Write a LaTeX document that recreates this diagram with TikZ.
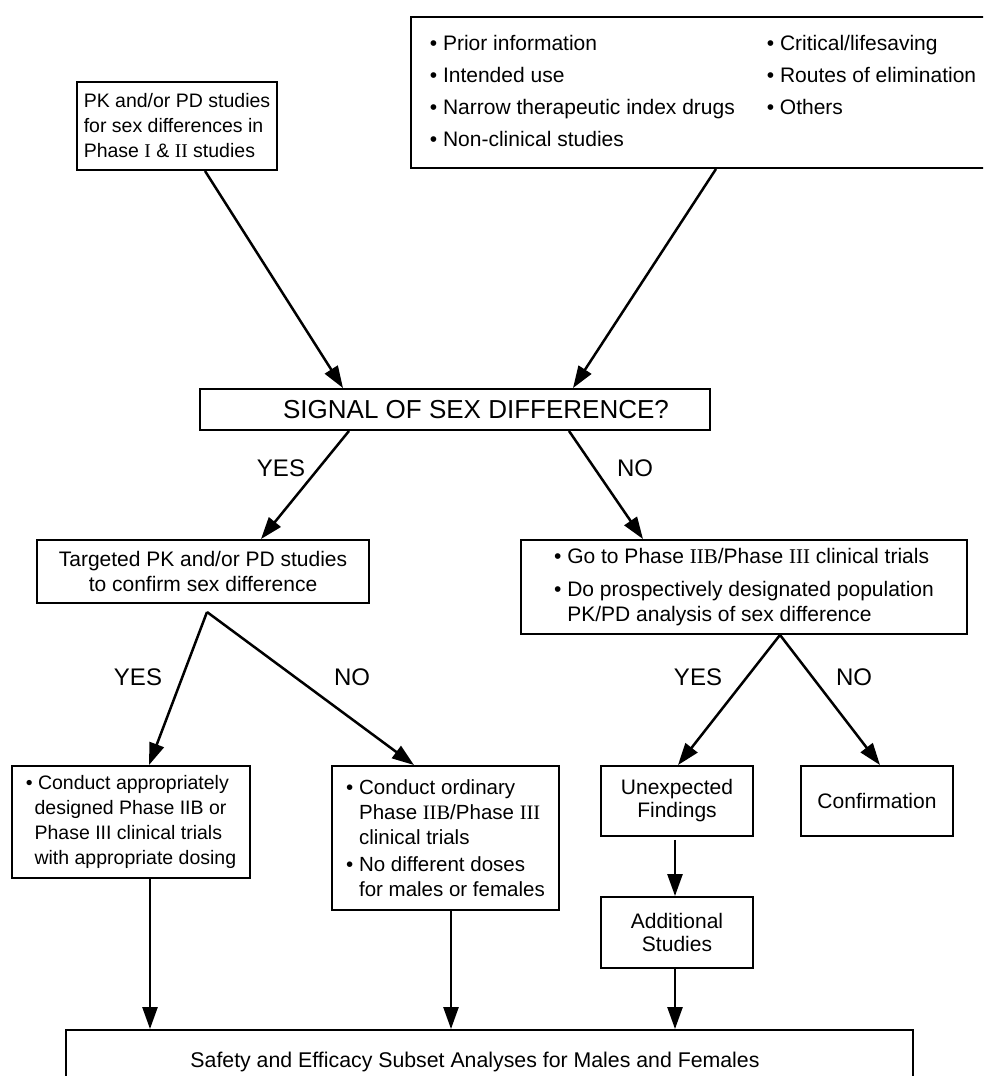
\documentclass[tikz,border=0pt]{standalone}
\usepackage{fontspec}
\setmainfont{Liberation Sans}
\newfontfamily\serifrn{Liberation Serif}
\newcommand{\RN}[1]{{\serifrn #1}}
\newcommand{\bul}{\textbullet\ }
\newcommand{\hang}{\hphantom{\textbullet\ }}
\usetikzlibrary{arrows.meta}
\tikzset{
  x=1pt, y=-1pt,
  box/.style={draw, line width=1.9pt, inner sep=0pt, align=left,
    font=\fontsize{21}{25}\selectfont},
  arr/.style={line width=2.5pt, -{Triangle[length=22pt,width=15pt]}},
  lab/.style={font=\fontsize{24}{28}\selectfont},
}
\begin{document}
\begin{tikzpicture}
\useasboundingbox (0,0) rectangle (983,1076);
\clip (0,0) rectangle (983,1076);

% boxes
\node[box, minimum width=584, minimum height=151, font=\fontsize{21}{32}\selectfont] (top) at (703,92.5)
  {\begin{tabular}{@{}p{337pt}@{}l@{}}
   \bul Prior information & \bul Critical/lifesaving\\
   \bul Intended use & \bul Routes of elimination\\
   \bul Narrow therapeutic index drugs & \bul Others\\
   \bul Non-clinical studies &
   \end{tabular}};
\node[box, minimum width=200, minimum height=88, font=\fontsize{19.5}{25}\selectfont] (b1) at (177,126)
  {PK and/or PD studies\\for sex differences in\\Phase \RN{I} \& \RN{II} studies};
\node[box, minimum width=510, minimum height=41, font=\fontsize{26}{30}\selectfont] (sig) at (455,409.5)
  {\hspace*{42pt}SIGNAL OF SEX DIFFERENCE?};
\node[box, minimum width=332, minimum height=63, align=center] (targ) at (203,571.5)
  {Targeted PK and/or PD studies\\to confirm sex difference};
\node[box, minimum width=446, minimum height=94] (goto) at (744,587)
  {\bul Go to Phase \RN{IIB}/Phase \RN{III} clinical trials\\[8pt]
   \bul Do prospectively designated population\\
   \hang PK/PD analysis of sex difference};
\node[box, minimum width=238, minimum height=112, font=\fontsize{19.5}{25}\selectfont] (b3) at (131,822)
  {\bul Conduct appropriately\\
   \hspace*{0.45em}designed Phase IIB or\\
   \hspace*{0.45em}Phase III clinical trials\\
   \hspace*{0.45em}with appropriate dosing};
\node[box, minimum width=227, minimum height=144, font=\fontsize{20.5}{25}\selectfont] (b4) at (445.5,838)
  {\bul Conduct ordinary\\
   \hang Phase \RN{IIB}/Phase \RN{III}\\
   \hang clinical trials\\[2pt]
   \bul No different doses\\
   \hang for males or females};
\node[box, minimum width=152, minimum height=70, align=center, font=\fontsize{21}{23}\selectfont] (unexp) at (677,801)
  {Unexpected\\Findings};
\node[box, minimum width=152, minimum height=70, align=center] (conf) at (877,801)
  {Confirmation};
\node[box, minimum width=152, minimum height=71, align=center, font=\fontsize{21}{23}\selectfont] (addl) at (677,932.5)
  {Additional\\Studies};
\node[box, minimum width=847, minimum height=64, font=\fontsize{21.3}{25}\selectfont] (bot) at (489.5,1062)
  {Safety and Efficacy Subset Analyses for Males and Females\hspace*{29pt}};

% split points
\coordinate (tsplit) at (207,612);
\coordinate (gsplit) at (goto.south -| 780,0);

% connectors
\draw[arr] (b1.south -| 205,0) -- (sig.north -| 343,0);
\draw[arr] (top.south -| 716,0) -- (sig.north -| 573,0);
\draw[arr] (sig.south -| 349,0) -- (targ.north -| 261,0);
\draw[arr] (sig.south -| 569,0) -- (goto.north -| 643,0);
\draw[arr] (tsplit) -- (b3.north -| 149,0);
\draw[arr] (tsplit) -- (b4.north -| 414,0);
\draw[arr] (gsplit) -- (unexp.north -| 678,0);
\draw[arr] (gsplit) -- (conf.north -| 880,0);
\draw[arr] ([yshift=-3pt]unexp.south -| 675,0) -- (addl.north -| 675,0);
\draw[arr] (b3.south -| 150,0) -- (bot.north -| 150,0);
\draw[arr] (b4.south -| 451,0) -- (bot.north -| 451,0);
\draw[arr] (addl.south -| 675,0) -- (bot.north -| 675,0);

% labels
\node[lab] (ly1) at (281,468) {YES};
\node[lab] (ln1) at (635,468) {NO};
\node[lab] (ly2) at (138,677) {YES};
\node[lab] (ln2) at (352,677) {NO};
\node[lab] (ly3) at (698,677) {YES};
\node[lab] (ln3) at (854,677) {NO};
\end{tikzpicture}
\end{document}
